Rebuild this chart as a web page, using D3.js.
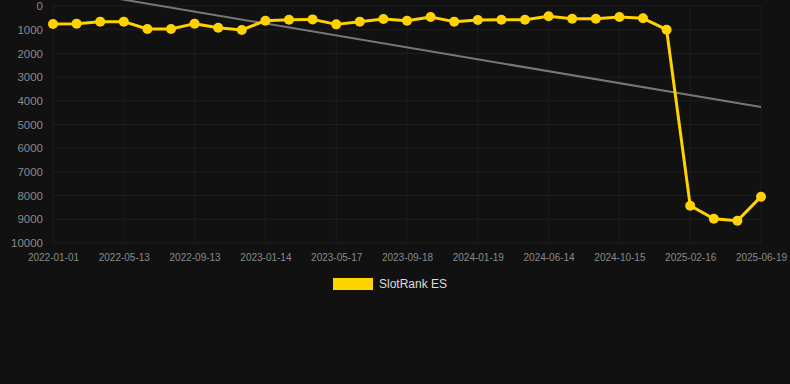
<!DOCTYPE html>
<html>
<head>
<meta charset="utf-8">
<script src="https://cdn.jsdelivr.net/npm/d3@7"></script>
<style>
  html, body { margin: 0; padding: 0; background: #111111; }
  svg { display: block; }
</style>
</head>
<body>
<div class="main"></div>
<script>
// Dates for every point (x axis is a category axis, a label every 3rd point)
const dates = [
  "2022-01-01","2022-02-13","2022-03-28","2022-05-13","2022-06-23","2022-08-03",
  "2022-09-13","2022-10-24","2022-12-04","2023-01-14","2023-02-24","2023-04-06",
  "2023-05-17","2023-06-28","2023-08-08","2023-09-18","2023-10-29","2023-12-09",
  "2024-01-19","2024-03-08","2024-04-26","2024-06-14","2024-07-26","2024-09-04",
  "2024-10-15","2024-11-26","2025-01-06","2025-02-16","2025-03-29","2025-05-09",
  "2025-06-19"
];
const rankES = [
  760, 745, 660, 660, 970, 970, 745, 915, 1010, 620, 580,
  565, 775, 660, 550, 620, 465, 660, 590, 580, 580, 435,
  535, 535, 465, 520, 1000, 8425, 8975, 9060, 8045
];
// Trend line, first and last value
const trendEnds = [-770, 4260];
const yTicks = [0, 1000, 2000, 3000, 4000, 5000, 6000, 7000, 8000, 9000, 10000];
const seriesName = "SlotRank ES";

let width = 790, height = 384;
let margin = {left: 53, right: 29, top: 6, bottom: 141};

let svg = d3.select("div.main").append("svg")
  .attr("width", width)
  .attr("height", height);

svg.append("rect")
  .attr("width", width)
  .attr("height", height)
  .attr("fill", "#111111");

let x = d3.scalePoint()
  .domain(dates)
  .range([margin.left, width - margin.right]);

let y = d3.scaleLinear()
  .domain([0, 10000])
  .range([margin.top, height - margin.bottom]);

let labelDates = dates.filter((d, i) => i % 3 == 0);
let font = "'Liberation Sans', Arial, Helvetica, sans-serif";

// grid
svg.append("g").selectAll("line.h")
  .data(yTicks)
  .join("line")
  .attr("x1", margin.left).attr("x2", width - margin.right)
  .attr("y1", d => y(d)).attr("y2", d => y(d))
  .attr("stroke", "#1f1f1f").attr("stroke-width", 1);

svg.append("g").selectAll("line.v")
  .data(labelDates)
  .join("line")
  .attr("x1", d => x(d)).attr("x2", d => x(d))
  .attr("y1", y(0)).attr("y2", y(10000))
  .attr("stroke", "#1d1d1d").attr("stroke-width", 1);

// y axis
let yAxis = d3.axisLeft(y).tickValues(yTicks).tickSize(0).tickPadding(10).tickFormat(d3.format("d"));
let gy = svg.append("g")
  .attr("transform", "translate(" + margin.left + ",0)")
  .call(yAxis);
gy.select(".domain").remove();
gy.selectAll("text")
  .attr("fill", "#8a8a8a")
  .style("font-family", font)
  .style("font-size", "11.5px");

// x axis
let xAxis = d3.axisBottom(x).tickValues(labelDates).tickSize(0).tickPadding(11);
let gx = svg.append("g")
  .attr("transform", "translate(0," + y(10000) + ")")
  .call(xAxis);
gx.select(".domain").remove();
gx.selectAll("text")
  .attr("fill", "#8a8a8a")
  .style("font-family", font)
  .style("font-size", "10px");

// trend line
svg.append("line")
  .attr("x1", x(dates[0])).attr("y1", y(trendEnds[0]))
  .attr("x2", x(dates[dates.length - 1])).attr("y2", y(trendEnds[1]))
  .attr("stroke", "#777777")
  .attr("stroke-width", 2);

// series
let pts = dates.map((d, i) => [d, rankES[i]]);
let line = d3.line()
  .x(d => x(d[0]))
  .y(d => y(d[1]));

svg.append("path")
  .datum(pts)
  .attr("d", line)
  .attr("fill", "none")
  .attr("stroke", "#ffd200")
  .attr("stroke-width", 3)
  .attr("stroke-linejoin", "round");

svg.append("g").selectAll("circle")
  .data(pts)
  .join("circle")
  .attr("cx", d => x(d[0]))
  .attr("cy", d => y(d[1]))
  .attr("r", 5)
  .attr("fill", "#ffd200");

// legend
let legend = svg.append("g");
legend.append("rect")
  .attr("x", 333).attr("y", 278)
  .attr("width", 40).attr("height", 12)
  .attr("fill", "#ffd200");
legend.append("text")
  .attr("x", 379).attr("y", 284)
  .attr("dominant-baseline", "central")
  .attr("fill", "#dddddd")
  .style("font-family", font)
  .style("font-size", "12px")
  .text(seriesName);
</script>
</body>
</html>
